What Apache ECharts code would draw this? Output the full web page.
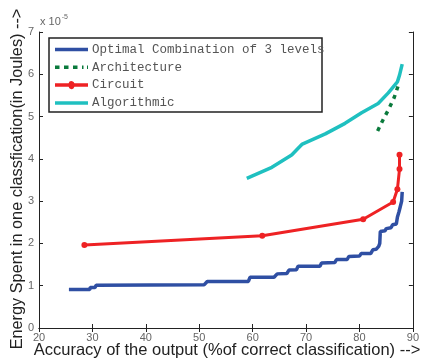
<!DOCTYPE html>
<html><head><meta charset="utf-8">
<script src="https://cdn.jsdelivr.net/npm/echarts@6/dist/echarts.min.js"></script>
<style>html,body{margin:0;padding:0;background:#fff}#c{width:422px;height:360px}</style>
</head><body><div id="c"></div>
<script>
const seriesNames = ['Optimal Combination of 3 levels', 'Architecture', 'Circuit', 'Algorithmic'];
const xTickLabels = ['20', '30', '40', '50', '60', '70', '80', '90'];
const yTickLabels = ['0', '1', '2', '3', '4', '5', '6', '7'];
const xTitle = 'Accuracy of the output (%of correct classification) -->';
const yTitle = 'Energy Spent in one classfication(in Joules) -->';
const yScaleNote = 'x 10';
const yScaleExp = '-5';

// [accuracy %, energy (x1e-5 J)]
const optimalData = [
  [25.6, 0.91], [29.5, 0.91], [29.6, 0.96], [30.5, 0.96], [30.7, 1.01], [50.9, 1.02],
  [51.5, 1.10], [59.2, 1.10], [59.5, 1.20], [64.0, 1.20], [64.6, 1.28], [66.4, 1.29],
  [66.8, 1.37], [68.2, 1.38], [68.5, 1.46], [72.6, 1.46], [72.9, 1.54], [75.4, 1.55],
  [75.7, 1.62], [77.7, 1.62], [78.0, 1.69], [80.0, 1.70], [80.3, 1.76], [82.1, 1.76],
  [82.5, 1.85], [83.1, 1.86], [83.6, 1.93], [83.8, 2.00], [83.9, 2.28], [84.8, 2.30],
  [85.0, 2.35], [85.9, 2.37], [86.2, 2.44], [86.9, 2.46], [87.1, 2.62], [87.4, 2.75],
  [87.6, 2.85], [87.9, 3.00], [88.0, 3.22]
];
const architectureData = [
  [83.4, 4.66], [84.4, 4.92], [85.5, 5.18], [86.5, 5.45], [87.3, 5.75]
];
const circuitData = [
  [28.5, 1.96], [61.8, 2.18], [80.7, 2.57], [86.3, 2.98], [87.1, 3.28], [87.5, 3.76], [87.5, 4.10]
];
const algorithmicData = [
  [58.9, 3.54], [63.6, 3.80], [67.3, 4.09], [69.3, 4.35], [73.6, 4.59], [77.3, 4.84],
  [80.4, 5.09], [83.5, 5.31], [85.4, 5.56], [87.1, 5.82], [87.5, 5.98], [88.0, 6.24]
];

const colors = ['#2f4fa3', '#0a7a3c', '#ee2224', '#1fc0c0'];
const tickFont = { color: '#666', fontSize: 11, fontFamily: 'Liberation Sans' };

// legend icon shapes (33 wide)
const iconSolid = 'path://M0,0H33V3.5H0Z';
const iconDashed = 'path://M0,0H4.5V3.5H0Z M9,0H13.5V3.5H9Z M18,0H22.5V3.5H18Z M27,0H28.5V3.5H27Z M32,0H33V3.5H32Z';
const iconMarker = 'path://M0,1.25H13.6A3,3 0 0 1 19.4,1.25H33V4.75H19.4A3,3 0 0 1 13.6,4.75H0Z';

const chart = echarts.init(document.getElementById('c'), null, { renderer: 'canvas' });
const axisCommon = {
  type: 'value',
  axisLine: { show: true, lineStyle: { color: '#222', width: 1 } },
  axisTick: { show: true, inside: true, length: 4, lineStyle: { color: '#222' } },
  splitLine: { show: false }
};
chart.setOption({
  animation: false,
  color: colors,
  grid: { left: 39, right: 7, top: 32, bottom: 32 },
  xAxis: [
    Object.assign({}, axisCommon, {
      min: 20, max: 90, interval: 10, position: 'bottom',
      axisLabel: Object.assign({ margin: 4, formatter: v => xTickLabels[Math.round((v - 20) / 10)] }, tickFont)
    }),
    Object.assign({}, axisCommon, {
      min: 20, max: 90, interval: 10, position: 'top', axisLabel: { show: false }
    })
  ],
  yAxis: [
    Object.assign({}, axisCommon, {
      min: 0, max: 7, interval: 1, position: 'left',
      axisLabel: Object.assign({ margin: 5, formatter: v => yTickLabels[Math.round(v)] }, tickFont)
    }),
    Object.assign({}, axisCommon, {
      min: 0, max: 7, interval: 1, position: 'right', axisLabel: { show: false }
    })
  ],
  legend: {
    orient: 'vertical', left: 55, top: 43, padding: 0,
    itemWidth: 33, itemHeight: 12, itemGap: 4.8,
    data: [
      { name: seriesNames[0], icon: iconSolid, itemStyle: { color: colors[0] } },
      { name: seriesNames[1], icon: iconDashed, itemStyle: { color: colors[1] } },
      { name: seriesNames[2], icon: iconMarker, itemStyle: { color: colors[2] } },
      { name: seriesNames[3], icon: iconSolid, itemStyle: { color: colors[3] } }
    ],
    itemStyle: { borderWidth: 0 },
    lineStyle: { width: 0 },
    textStyle: { color: '#555', fontSize: 12.5, fontFamily: 'Liberation Mono', padding: [0, 0, 0, -1] }
  },
  graphic: [
    { type: 'rect', shape: { x: 49, y: 38, width: 273, height: 74 }, style: { fill: null, stroke: '#222', lineWidth: 1.5 }, z: 1 },
    { type: 'text', left: 40, top: 14, style: {
        text: yScaleNote + '{s|' + yScaleExp + '}',
        font: '11px Liberation Sans', fill: '#666',
        rich: { s: { fontSize: 7, fill: '#666', verticalAlign: 'top', padding: [0, 0, 8, 1] } }
    } },
    { type: 'text', x: 227, y: 350, style: {
        text: xTitle, font: '16.5px Liberation Sans', fill: '#222', align: 'center', verticalAlign: 'middle'
    } },
    { type: 'text', x: 18, y: 179, rotation: Math.PI / 2, style: {
        text: yTitle, font: '16.3px Liberation Sans', fill: '#222', align: 'center', verticalAlign: 'middle'
    } }
  ],
  series: [
    { name: seriesNames[0], type: 'line', data: optimalData, symbol: 'none', itemStyle: { color: colors[0] }, lineStyle: { color: colors[0], width: 3.5 } },
    { name: seriesNames[1], type: 'line', data: architectureData, symbol: 'none', itemStyle: { color: colors[1] }, lineStyle: { color: colors[1], width: 3.5, type: [4, 5] } },
    { name: seriesNames[2], type: 'line', data: circuitData, symbol: 'circle', symbolSize: 6, itemStyle: { color: colors[2] }, lineStyle: { color: colors[2], width: 3 } },
    { name: seriesNames[3], type: 'line', data: algorithmicData, symbol: 'none', itemStyle: { color: colors[3] }, lineStyle: { color: colors[3], width: 3.5 } }
  ]
});
</script></body></html>
